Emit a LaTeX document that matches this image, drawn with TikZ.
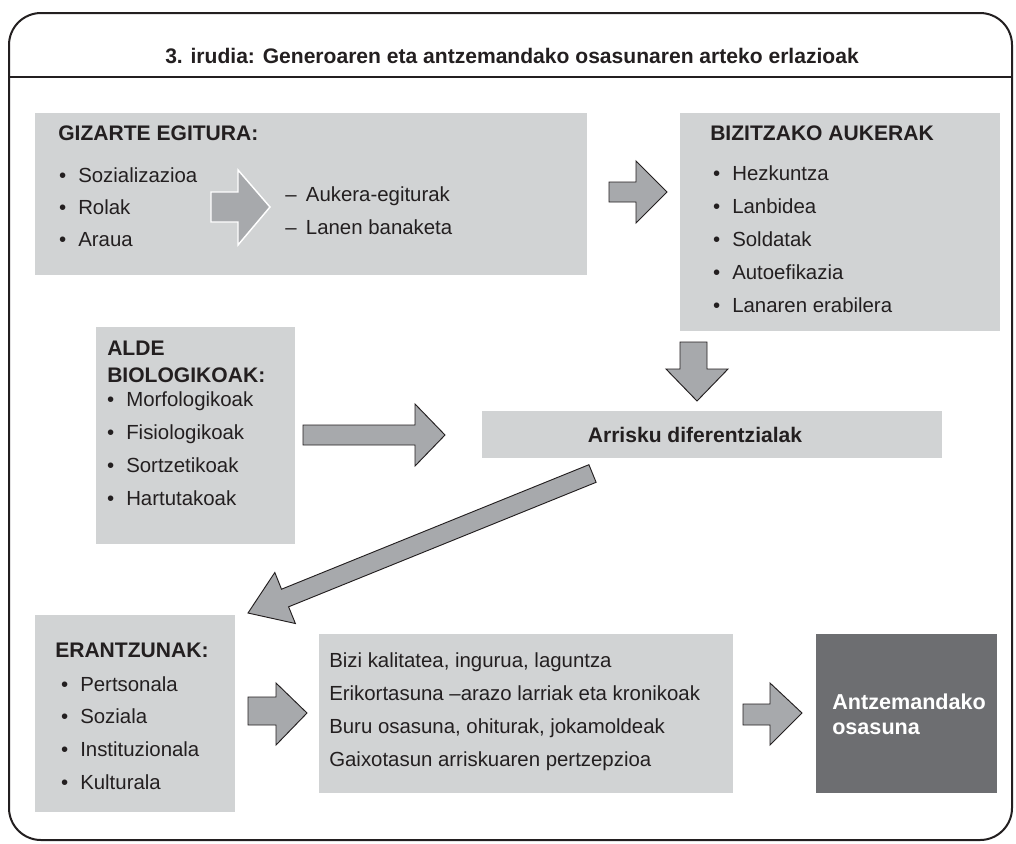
\documentclass[tikz,border=0pt]{standalone}
\usepackage{fontspec}
\setmainfont{Liberation Sans}
\usetikzlibrary{fit}
\definecolor{boxgray}{HTML}{D1D3D4}
\definecolor{arrgray}{HTML}{A7A9AC}
\definecolor{darkbox}{HTML}{6D6E71}
\definecolor{ink}{HTML}{231F20}
\begin{document}
\begin{tikzpicture}[x=0.75pt,y=-0.75pt,
  box/.style={fill=boxgray,draw=none,inner sep=0pt},
  txt/.style={anchor=base west,inner sep=0pt,text=ink,font=\fontsize{15.3}{18}\selectfont},
  hd/.style={anchor=base west,inner sep=0pt,text=ink,font=\bfseries\fontsize{15.8}{18}\selectfont},
  itm/.style={txt,execute at begin node={\llap{\textbullet\hspace{9pt}}}},
  barrow/.style={fill=arrgray,draw=ink,line width=0.7pt,line join=miter},
  warrow/.style={fill=arrgray,draw=white,line width=1.1pt,line join=miter}]
\useasboundingbox (0,0) rectangle (1016,843);
\fill[white] (0,0) rectangle (1016,843);
% frame
\node[draw=ink,line width=1.5pt,rounded corners=24pt,inner sep=0pt,fit={(9,13) (1012,840)}] (frame) {};
\coordinate (tl) at (10,77);
\coordinate (tr) at (1012,77);
\draw[ink,line width=0.8pt] (tl) -- (tr);
\node[hd,anchor=base] (title) at (512,63) {3. irudia: Generoaren eta antzemandako osasunaren arteko erlazioak};
% boxes
\node[box,fit={(35,113) (587,275)}] (gz) {};
\node[box,fit={(680,113) (1000,331)}] (bz) {};
\node[box,fit={(96,327) (295,544)}] (al) {};
\node[box,fit={(482,411) (942,458)}] (ar) {};
\node[box,fit={(35,615) (235,812)}] (er) {};
\node[box,fit={(319,634) (733,793)}] (mid) {};
\node[fill=darkbox,inner sep=0pt,fit={(816,634) (997,793)}] (dk) {};
% GIZARTE
\node[hd] (gzh) at (58,140.5) {GIZARTE EGITURA:};
\foreach \t [count=\i] in {Sozializazioa,Rolak,Araua}
  \node[itm] (gz\i) at (78,{182+32*(\i-1)}) {\t};
\node[txt] (gzd1) at (285,201) {–\hspace{7pt}Aukera-egiturak};
\node[txt] (gzd2) at (285,234) {–\hspace{7pt}Lanen banaketa};
\draw[warrow] (211,192) -- (238,192) -- (238,170) -- (270,207) -- (238,245) -- (238,222) -- (211,222) -- cycle;
% BIZITZAKO
\node[hd] (bzh) at (710,140.5) {BIZITZAKO AUKERAK};
\foreach \t [count=\i] in {Hezkuntza,Lanbidea,Soldatak,Autoefikazia,Lanaren erabilera}
  \node[itm] (bz\i) at (732,{180+33*(\i-1)}) {\t};
% ALDE
\node[hd] (alh1) at (107,355.5) {ALDE};
\node[hd] (alh2) at (107,382.5) {BIOLOGIKOAK:};
\foreach \t [count=\i] in {Morfologikoak,Fisiologikoak,Sortzetikoak,Hartutakoak}
  \node[itm] (al\i) at (126,{406+33.3*(\i-1)}) {\t};
% Arrisku
\node[hd,anchor=base] (arh) at (695,442) {Arrisku diferentzialak};
% ERANTZUNAK
\node[hd] (erh) at (55,657.5) {ERANTZUNAK:};
\foreach \t [count=\i] in {Pertsonala,Soziala,Instituzionala,Kulturala}
  \node[itm] (er\i) at (80,{691+32.7*(\i-1)}) {\t};
% middle
\foreach \t [count=\i] in {{Bizi kalitatea, ingurua, laguntza},{Erikortasuna –arazo larriak eta kronikoak},{Buru osasuna, ohiturak, jokamoldeak},{Gaixotasun arriskuaren pertzepzioa}}
  \node[txt] (m\i) at (329,{667+33*(\i-1)}) {\t};
% dark
\node[hd,text=white,font=\bfseries\fontsize{16.2}{18}\selectfont] (dk1) at (832,709) {Antzemandako};
\node[hd,text=white,font=\bfseries\fontsize{16.2}{18}\selectfont] (dk2) at (832,734) {osasuna};
% block arrows
\draw[barrow] (609,182) -- (636,182) -- (636,161) -- (667,192) -- (636,223) -- (636,202) -- (609,202) -- cycle;
\draw[barrow] (680,342) -- (707,342) -- (707,369) -- (728,369) -- (697,401) -- (666,369) -- (680,369) -- cycle;
\draw[barrow] (303,425) -- (415,425) -- (415,404) -- (445,435) -- (415,466) -- (415,445) -- (303,445) -- cycle;
\draw[barrow] (588.9,464.7) -- (281.5,589.2) -- (274.8,572.5) -- (248,613) -- (295.4,623.5) -- (288.6,606.8) -- (596.1,482.3) -- cycle;
\draw[barrow] (248,697) -- (276,697) -- (276,683) -- (307,713) -- (276,745) -- (276,725) -- (248,725) -- cycle;
\draw[barrow] (743,704) -- (770,704) -- (770,683) -- (802,713) -- (770,745) -- (770,725) -- (743,725) -- cycle;
\end{tikzpicture}
\end{document}
